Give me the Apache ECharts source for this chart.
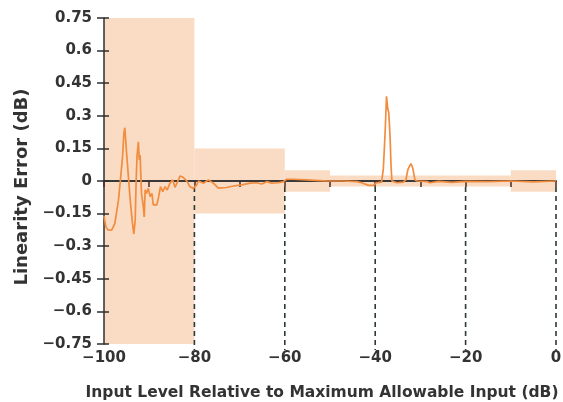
<!DOCTYPE html>
<html><head><meta charset="utf-8">
<script src="https://cdn.jsdelivr.net/npm/echarts@6/dist/echarts.min.js"></script>
<style>html,body{margin:0;padding:0;background:#fff}#c{width:563px;height:402px}</style>
</head><body><div id="c"></div>
<script>
// Linearity error curve: [input level dB, error dB]
const curveX = [-100,-99.6,-99.1,-98.3,-97.6,-96.8,-96.3,-95.9,-95.6,-95.4,-95.2,-95.0,-94.6,-94.2,-93.7,-93.4,-93.1,-92.9,-92.7,-92.4,-92.2,-92.0,-91.9,-91.7,-91.3,-91.1,-90.9,-90.6,-90.2,-89.8,-89.4,-89.1,-88.3,-87.9,-87.5,-87.0,-86.5,-86.0,-85.4,-84.8,-84.3,-83.8,-83.2,-82.5,-81.7,-81.0,-80.2,-79.5,-79.1,-78.0,-76.9,-75.8,-74.7,-72.9,-71.4,-69.5,-67.7,-66.2,-65.1,-64.0,-62.9,-61.4,-60.3,-59.6,-58.1,-55.2,-52.2,-50.5,-47,-44,-43.0,-41.5,-40.4,-39.7,-38.6,-38.2,-37.8,-37.5,-37.2,-37.0,-36.7,-36.5,-36.3,-35.2,-33.8,-33.2,-32.8,-32.5,-32.1,-31.7,-31.2,-30.7,-28.5,-27.9,-26,-23,-20,-15,-10,-5,0];
const curveY = [-0.16,-0.21,-0.225,-0.226,-0.195,-0.088,0.02,0.112,0.22,0.245,0.19,0.128,0.02,-0.088,-0.195,-0.244,-0.18,-0.01,0.112,0.18,0.097,0.12,0.05,-0.057,-0.118,-0.165,-0.04,-0.057,-0.034,-0.072,-0.057,-0.11,-0.11,-0.072,-0.026,-0.049,-0.026,-0.041,-0.01,0.005,-0.029,-0.008,0.023,0.017,0.001,-0.026,-0.034,-0.018,0,-0.01,0.005,-0.01,-0.033,-0.03,-0.023,-0.018,-0.01,-0.008,-0.014,-0.003,-0.01,-0.008,-0.003,0.008,0.008,0.005,0.002,0,0,-0.003,-0.008,-0.02,-0.02,-0.008,-0.005,0.056,0.225,0.39,0.33,0.315,0.2,0.07,0,-0.008,-0.005,0.005,0.05,0.065,0.08,0.06,0.005,0,-0.003,-0.008,-0.002,-0.006,-0.002,-0.003,0,-0.004,0];

// Tolerance bands: start, end, +/- half width (dB)
const bandStart = [-100,-80,-60,-50,-10];
const bandEnd   = [-80,-60,-50,-10,0];
const bandHalf  = [0.75,0.15,0.05,0.025,0.05];

// Dashed guide lines
const dashX = [-80,-60,-40,-20,0];

const xTickLabels = {'-100':'\u2212100','-80':'\u221280','-60':'\u221260','-40':'\u221240','-20':'\u221220','0':'0'};
const yTickLabels = {'0.75':'0.75','0.6':'0.6','0.45':'0.45','0.3':'0.3','0.15':'0.15','0':'0','-0.15':'\u22120.15','-0.3':'\u22120.3','-0.45':'\u22120.45','-0.6':'\u22120.6','-0.75':'\u22120.75'};

const FONT = 'DejaVu Sans';
const TXT = '#333';
const AX = '#2f2f2f';
const chart = echarts.init(document.getElementById('c'), null, {renderer:'canvas'});
const key = v => String(Math.round(v*100)/100);

const curve = curveX.map((x,i)=>[x,curveY[i]]);
const bands = bandStart.map((s,i)=>[s,bandEnd[i],bandHalf[i]]);

chart.setOption({
  animation:false,
  backgroundColor:'#fff',
  grid:{left:104,right:7,top:18,bottom:58,outerBoundsMode:'none',containLabel:false},
  xAxis:[
    {type:'value',min:-100,max:0,interval:10,z:3,
     axisLine:{onZero:true,lineStyle:{color:AX,width:1.5}},
     axisTick:{show:true,inside:false,length:6,lineStyle:{color:'#4a2a2a',width:1.5}},
     axisLabel:{show:false},splitLine:{show:false}},
    {type:'value',min:-100,max:0,interval:10,z:3,
     axisLine:{onZero:true,lineStyle:{color:AX,width:1.5}},
     axisTick:{show:true,inside:true,length:6,lineStyle:{color:'#4a2a2a',width:1.5}},
     axisLabel:{show:false},splitLine:{show:false}},
    {type:'value',min:-100,max:0,interval:20,position:'bottom',z:3,
     axisLine:{show:false,onZero:false},axisTick:{show:false},splitLine:{show:false},
     axisLabel:{show:true,margin:7,color:TXT,fontFamily:FONT,fontWeight:'bold',fontSize:15,
       formatter:v=>xTickLabels[key(v)]},
     name:'Input Level Relative to Maximum Allowable Input (dB)',nameLocation:'middle',nameGap:41,
     nameTextStyle:{color:TXT,fontFamily:FONT,fontWeight:'bold',fontSize:15.5,padding:[0,16,0,0]}}
  ],
  yAxis:[
    {type:'value',min:-0.75,max:0.75,interval:0.15,z:3,position:'left',
     axisLine:{show:true,onZero:false,lineStyle:{color:AX,width:1.5}},
     axisTick:{show:true,inside:false,length:7,lineStyle:{color:AX,width:1.5}},
     splitLine:{show:false},
     axisLabel:{show:true,margin:12,color:TXT,fontFamily:FONT,fontWeight:'bold',fontSize:15,
       formatter:v=>yTickLabels[key(v)]},
     name:'Linearity Error (dB)',nameLocation:'middle',nameGap:72,nameRotate:90,
     nameTextStyle:{color:TXT,fontFamily:FONT,fontWeight:'bold',fontSize:18,padding:[0,12,0,0]}},
    {type:'value',min:-0.75,max:0.75,interval:0.15,z:3,position:'left',offset:0,
     axisLine:{show:false,onZero:false},
     axisTick:{show:true,inside:true,length:5,lineStyle:{color:AX,width:1.5}},
     splitLine:{show:false},axisLabel:{show:false}}
  ],
  series:[
    {type:'custom',xAxisIndex:2,yAxisIndex:0,z:1,silent:true,data:bands,
     renderItem:(params,api)=>{
       const p0=api.coord([api.value(0),api.value(2)]);
       const p1=api.coord([api.value(1),-api.value(2)]);
       return {type:'rect',shape:{x:p0[0],y:p0[1],width:p1[0]-p0[0],height:p1[1]-p0[1]},
               style:{fill:'#f9dcc3'}};
     }},
    {type:'custom',xAxisIndex:2,yAxisIndex:0,z:3,silent:true,data:dashX.map(x=>[x]),
     renderItem:(params,api)=>{
       const a=api.coord([api.value(0),0]);
       const b=api.coord([api.value(0),-0.75]);
       return {type:'line',shape:{x1:a[0],y1:a[1]+6,x2:b[0],y2:b[1]+6},
               style:{stroke:'#2c3a30',lineWidth:1.6,lineDash:[5,4]}};
     }},
    {type:'line',xAxisIndex:2,yAxisIndex:0,z:5,data:curve,showSymbol:false,symbol:'none',
     lineStyle:{color:'#f28c3e',width:1.7}}
  ]
});
</script></body></html>
